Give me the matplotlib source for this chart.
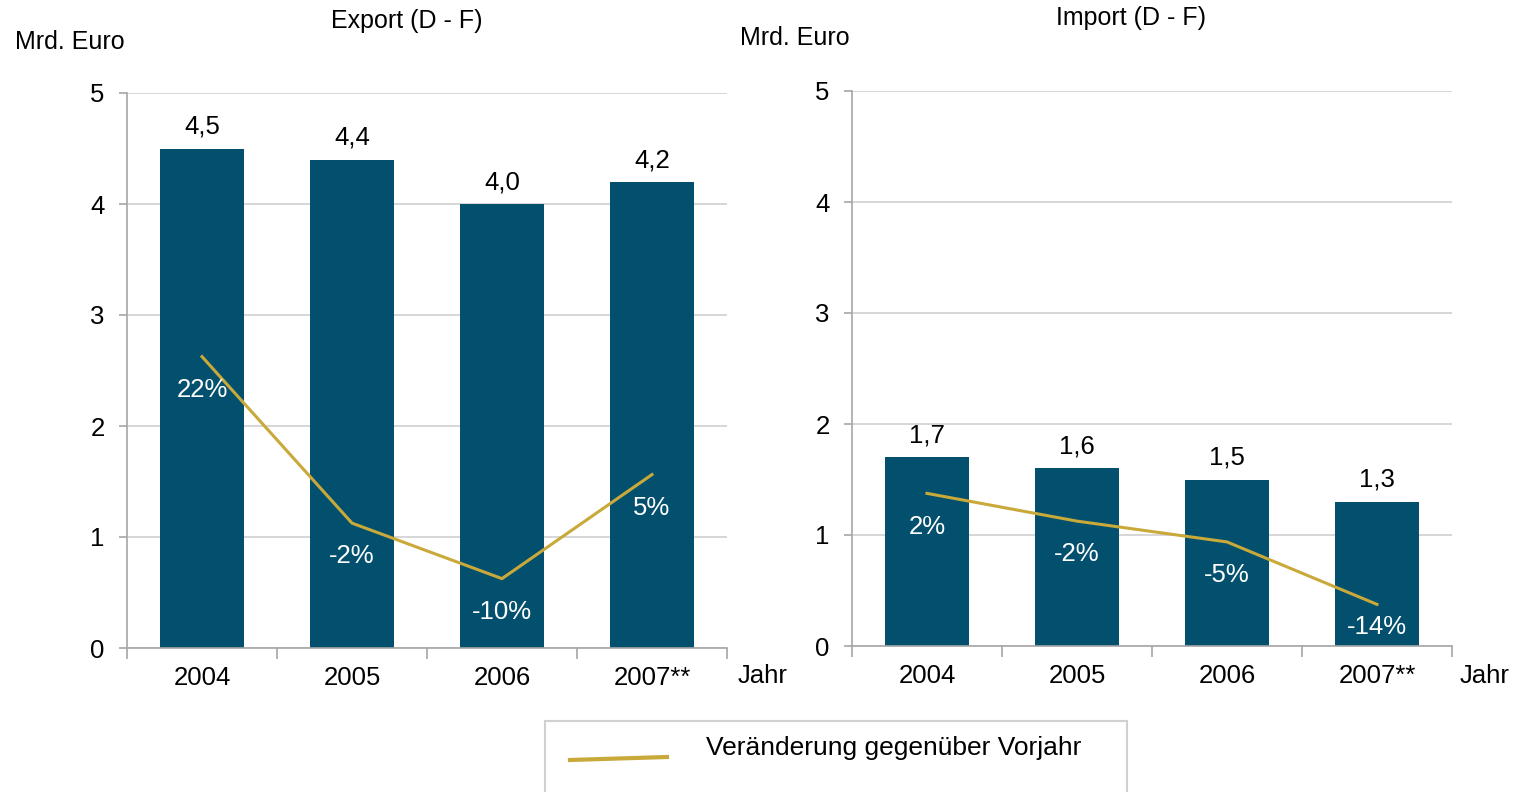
import matplotlib
matplotlib.use("Agg")
import matplotlib.pyplot as plt
from matplotlib.patches import Rectangle
from matplotlib.lines import Line2D

plt.rcParams['font.family'] = ['Liberation Sans', 'DejaVu Sans']

# Data
years = ["2004", "2005", "2006", "2007**"]
export_vals = [4.5, 4.4, 4.0, 4.2]
export_chg = [0.22, -0.02, -0.10, 0.05]
import_vals = [1.7, 1.6, 1.5, 1.3]
import_chg = [0.02, -0.02, -0.05, -0.14]

bar_color = "#03506E"
line_color = "#C8A93A"
grid_color = "#CFCFCF"
spine_color = "#A6A6A6"

fig = plt.figure(figsize=(15.13, 7.92), dpi=100)
W, H = 1513, 792


def panel(rect, vals, chg, title, title_x, title_y, unit_x, unit_y, jahr_x):
    ax = fig.add_axes(rect)
    x = range(len(years))
    ax.bar(x, vals, width=0.56, color=bar_color, zorder=2)
    ax.set_xlim(-0.5, len(years) - 0.5)
    ax.set_ylim(0, 5)
    ax.set_yticks([0, 1, 2, 3, 4, 5])
    ax.yaxis.grid(True, color=grid_color, lw=1.2, zorder=0)
    ax.set_axisbelow(True)
    for s in ["top", "right"]:
        ax.spines[s].set_visible(False)
    for s in ["left", "bottom"]:
        ax.spines[s].set_color(spine_color)
        ax.spines[s].set_linewidth(1.2)
    ax.set_xticks(list(x))
    ax.set_xticklabels(years, fontsize=18.5)
    ax.tick_params(axis="x", length=0, pad=13)
    ax.set_xticks([i + 0.5 for i in range(-1, len(years))], minor=True)
    ax.tick_params(axis="x", which="minor", length=8, color=spine_color, width=1.2)
    ax.tick_params(axis="y", length=6, color=spine_color, width=1.2, labelsize=18.5, pad=10)
    for i, v in enumerate(vals):
        ax.annotate(f"{v:.1f}".replace(".", ","), (i, v), xytext=(0, 7),
                    textcoords="offset points", ha="center", va="bottom", fontsize=18.5)

    ax2 = ax.twinx()
    lo, hi = -0.2, 0.6
    ax2.set_ylim(lo, hi)
    ax2.axis("off")
    ax2.plot(list(x), chg, color=line_color, lw=2.2, zorder=3)
    pts_per_unit = rect[3] * H * 0.72 / (hi - lo)
    for i, c in enumerate(chg):
        # keep labels inside the bar when the point is close to the bottom
        off = min(24, (c - lo) * pts_per_unit - 14)
        ax2.annotate(f"{round(c * 100):d}%", (i, c), xytext=(0, -off),
                     textcoords="offset points", ha="center", va="center",
                     fontsize=18.5, color="white")

    fig.text(title_x / W, 1 - title_y / H, title, ha="center", va="center", fontsize=18)
    fig.text(unit_x / W, 1 - unit_y / H, "Mrd. Euro", ha="left", va="center", fontsize=18)
    fig.text(jahr_x / W, 1 - 676 / H, "Jahr", ha="left", va="center", fontsize=18.5)
    return ax


panel([127 / W, 1 - 648 / H, 600 / W, 555 / H], export_vals, export_chg,
      "Export (D - F)", 407, 21, 15, 42, 738)
panel([852 / W, 1 - 646 / H, 600 / W, 555 / H], import_vals, import_chg,
      "Import (D - F)", 1131, 18, 740, 38, 1460)

# Legend box
fig.patches.append(Rectangle((545 / W, -0.05), (1127 - 545) / W, (1 - 721 / H) + 0.05,
                             transform=fig.transFigure, fill=False,
                             edgecolor="#D0D0D0", lw=1.5))
fig.lines.append(Line2D([570 / W, 667 / W], [1 - 760 / H, 1 - 757 / H],
                        transform=fig.transFigure, color=line_color, lw=3))
fig.text(706 / W, 1 - 748 / H, "Veränderung gegenüber Vorjahr", ha="left",
         va="center", fontsize=19)

fig.savefig("out.png", dpi=100)
